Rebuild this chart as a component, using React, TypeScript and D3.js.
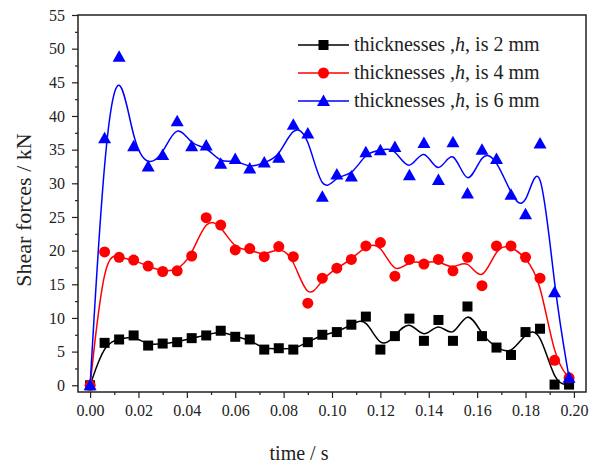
import React, { useEffect, useRef } from "react";
import * as d3 from "d3";

// Sizes of the picture and the plot frame
const width = 592;
const height = 466;
const margin = { top: 15, right: 6, bottom: 74, left: 78 };

// Time of each sample (s)
const times = [
  0, 0.006, 0.012, 0.018, 0.024, 0.03, 0.036, 0.042, 0.048, 0.054, 0.06, 0.066,
  0.072, 0.078, 0.084, 0.09, 0.096, 0.102, 0.108, 0.114, 0.12, 0.126, 0.132,
  0.138, 0.144, 0.15, 0.156, 0.162, 0.168, 0.174, 0.18, 0.186, 0.192, 0.198,
];

// Shear forces (kN) for each thickness
const force2mm = [
  0, 6.3, 6.8, 7.4, 5.9, 6.2, 6.4, 7.0, 7.4, 8.1, 7.2, 6.8, 5.3, 5.5, 5.3, 6.4,
  7.5, 7.9, 9.0, 10.2, 5.3, 7.3, 9.9, 6.6, 9.7, 6.6, 11.7, 7.3, 5.6, 4.5, 7.9,
  8.4, 0.1, 0.1,
];
const force4mm = [
  0, 19.8, 19.0, 18.6, 17.7, 16.9, 17.0, 19.2, 24.9, 23.8, 20.1, 20.3, 19.1,
  20.6, 19.1, 12.2, 15.9, 17.4, 18.7, 20.7, 21.2, 16.2, 18.7, 18.0, 18.7, 17.0,
  19.0, 14.8, 20.7, 20.7, 19.0, 15.9, 3.7, 1.1,
];
const force6mm = [
  0, 36.7, 48.8, 35.5, 32.5, 34.2, 39.2, 35.5, 35.6, 32.9, 33.6, 32.2, 33.1,
  33.8, 38.7, 37.4, 28.0, 31.3, 31.0, 34.6, 34.9, 35.4, 31.2, 36.0, 30.5, 36.1,
  28.5, 35.0, 33.6, 28.3, 25.4, 35.9, 13.8, 1.1,
];

const seriesNames = [
  "thicknesses ,h, is 2 mm",
  "thicknesses ,h, is 4 mm",
  "thicknesses ,h, is 6 mm",
];
const seriesColors = ["#000000", "#ff0000", "#0000ff"];
const seriesMarkers = ["square", "circle", "triangle"];

const xTicks = [0, 0.02, 0.04, 0.06, 0.08, 0.1, 0.12, 0.14, 0.16, 0.18, 0.2];
const xMinorTicks = [0.01, 0.03, 0.05, 0.07, 0.09, 0.11, 0.13, 0.15, 0.17, 0.19];
const yTicks = [0, 5, 10, 15, 20, 25, 30, 35, 40, 45, 50, 55];
const yMinorTicks = [2.5, 7.5, 12.5, 17.5, 22.5, 27.5, 32.5, 37.5, 42.5, 47.5, 52.5];

const font = "'Liberation Serif', 'Times New Roman', serif";

function drawMarker(g, kind, cx, cy, color) {
  if (kind === "square") {
    g.append("rect")
      .attr("x", cx - 5)
      .attr("y", cy - 5)
      .attr("width", 10)
      .attr("height", 10)
      .attr("fill", color);
  } else if (kind === "circle") {
    g.append("circle").attr("cx", cx).attr("cy", cy).attr("r", 5.5).attr("fill", color);
  } else {
    g.append("path")
      .attr("d", `M${cx},${cy - 6.5}L${cx + 6.5},${cy + 5}L${cx - 6.5},${cy + 5}Z`)
      .attr("fill", color);
  }
}

function ShearChart() {
  const chartElement = useRef(null);

  useEffect(() => {
    const svg = d3.select(chartElement.current).html("");

    const x = d3
      .scaleLinear()
      .domain([-0.005, 0.205])
      .range([margin.left, width - margin.right]);
    const y = d3
      .scaleLinear()
      .domain([-1, 55])
      .range([height - margin.bottom, margin.top]);

    const axisColor = "#222";

    // Axes with outward ticks
    const xAxis = svg
      .append("g")
      .attr("transform", `translate(0,${height - margin.bottom})`)
      .call(
        d3.axisBottom(x).tickValues(xTicks).tickSize(6).tickPadding(7).tickFormat(d3.format(".2f"))
      );
    svg
      .append("g")
      .attr("transform", `translate(0,${height - margin.bottom})`)
      .call(d3.axisBottom(x).tickValues(xMinorTicks).tickSize(3).tickFormat(() => ""));

    const yAxis = svg
      .append("g")
      .attr("transform", `translate(${margin.left},0)`)
      .call(d3.axisLeft(y).tickValues(yTicks).tickSize(6).tickPadding(7));
    svg
      .append("g")
      .attr("transform", `translate(${margin.left},0)`)
      .call(d3.axisLeft(y).tickValues(yMinorTicks).tickSize(3).tickFormat(() => ""));

    svg.selectAll(".domain").remove();
    svg.selectAll(".tick line").attr("stroke", axisColor).attr("stroke-width", 1.2);
    [xAxis, yAxis].forEach((a) =>
      a.selectAll("text").attr("font-family", font).attr("font-size", 16).attr("fill", "#222")
    );

    // Plot frame
    svg
      .append("rect")
      .attr("x", margin.left)
      .attr("y", margin.top)
      .attr("width", width - margin.left - margin.right)
      .attr("height", height - margin.top - margin.bottom)
      .attr("fill", "none")
      .attr("stroke", axisColor)
      .attr("stroke-width", 1.5);

    // Series: smoothed B-spline lines and markers
    const allSeries = [force2mm, force4mm, force6mm];
    const line = d3
      .line()
      .x((d) => x(d[0]))
      .y((d) => y(d[1]))
      .curve(d3.curveBasis);

    allSeries.forEach((values, i) => {
      const pts = times.map((t, k) => [t, values[k]]);
      const g = svg.append("g");
      g.append("path")
        .attr("d", line(pts))
        .attr("fill", "none")
        .attr("stroke", seriesColors[i])
        .attr("stroke-width", 1.5);
      pts.forEach((p) => drawMarker(g, seriesMarkers[i], x(p[0]), y(p[1]), seriesColors[i]));
    });

    // Legend
    const legend = svg.append("g");
    seriesNames.forEach((name, i) => {
      const ly = 45 + i * 28;
      legend
        .append("line")
        .attr("x1", 298)
        .attr("x2", 349)
        .attr("y1", ly)
        .attr("y2", ly)
        .attr("stroke", seriesColors[i])
        .attr("stroke-width", 1.5);
      drawMarker(legend, seriesMarkers[i], 323.5, ly, seriesColors[i]);
      const parts = name.split(",h,");
      const text = legend
        .append("text")
        .attr("x", 354)
        .attr("y", ly + 6)
        .attr("font-family", font)
        .attr("font-size", 20)
        .attr("fill", "#222");
      text.append("tspan").text(parts[0] + ",");
      text.append("tspan").attr("font-style", "italic").text("h");
      text.append("tspan").text("," + parts[1]);
    });

    // Axis titles
    svg
      .append("text")
      .attr("x", 299)
      .attr("y", 460)
      .attr("text-anchor", "middle")
      .attr("font-family", font)
      .attr("font-size", 20)
      .attr("fill", "#222")
      .text("time / s");

    svg
      .append("text")
      .attr("transform", `translate(31,210) rotate(-90)`)
      .attr("text-anchor", "middle")
      .attr("font-family", font)
      .attr("font-size", 22)
      .attr("fill", "#222")
      .text("Shear forces / kN");
  }, []);

  return (
    <svg
      ref={chartElement}
      width={width}
      height={height}
      style={{ position: "absolute", left: 0, top: 0, background: "#fff" }}
    ></svg>
  );
}

export default function App() {
  return <ShearChart />;
}
